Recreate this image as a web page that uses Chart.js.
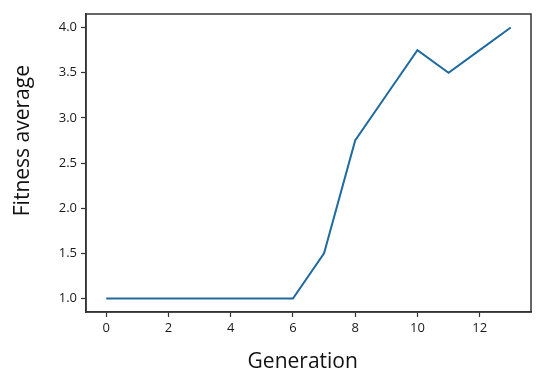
<!DOCTYPE html>
<html>
<head>
<meta charset="utf-8">
<script src="https://cdn.jsdelivr.net/npm/chart.js@4/dist/chart.umd.min.js"></script>
<style>
  html, body { margin: 0; padding: 0; background: #fff; }
  #wrap { width: 550px; height: 382px; }
</style>
</head>
<body>
<div id="wrap"><canvas id="chartFitness"></canvas></div>
<script>
const generations = [0, 1, 2, 3, 4, 5, 6, 7, 8, 9, 10, 11, 12, 13];
const fitnessAvg = [1.0, 1.0, 1.0, 1.0, 1.0, 1.0, 1.0, 1.5, 2.75, 3.25, 3.75, 3.5, 3.75, 4.0];
const xTicks = [0, 2, 4, 6, 8, 10, 12];
const yTicks = [1.0, 1.5, 2.0, 2.5, 3.0, 3.5, 4.0];
const xTitle = 'Generation';
const yTitle = 'Fitness average';

const axisColor = '#333333';
const fontFamily = '"Open Sans", "DejaVu Sans", sans-serif';

// box round the plot area + the two axis titles (placed like the original picture)
const frameBox = {
    id: 'frameBox',
    afterDraw(chart) {
        const a = chart.chartArea;
        const c = chart.ctx;
        c.save();
        c.strokeStyle = axisColor;
        c.lineWidth = 1.5;
        c.strokeRect(a.left, a.top, a.right - a.left, a.bottom - a.top);

        c.fillStyle = '#111';
        c.font = '21px ' + fontFamily;
        c.textAlign = 'center';
        c.textBaseline = 'middle';
        c.fillText(xTitle, a.left + (a.right - a.left) * 0.487, 362);
        c.translate(23, a.top + (a.bottom - a.top) * 0.425);
        c.rotate(-Math.PI / 2);
        c.fillText(yTitle, 0, 0);
        c.restore();
    }
};

const ctx = document.getElementById('chartFitness').getContext('2d');
new Chart(ctx, {
    type: 'line',
    data: {
        datasets: [{
            data: generations.map((g, i) => ({ x: g, y: fitnessAvg[i] })),
            borderColor: '#1f6a9e',
            borderWidth: 2,
            pointRadius: 0,
            tension: 0,
            fill: false
        }]
    },
    options: {
        responsive: true,
        maintainAspectRatio: false,
        animation: false,
        layout: { padding: { left: 0, right: 19, top: 14, bottom: 0 } },
        plugins: { legend: { display: false }, tooltip: { enabled: false } },
        scales: {
            x: {
                type: 'linear',
                min: -0.65,
                max: 13.65,
                afterBuildTicks: s => { s.ticks = xTicks.map(v => ({ value: v })); },
                afterFit: s => { s.height = 70; },
                grid: { drawOnChartArea: false, color: axisColor, tickLength: 5, tickWidth: 1.2 },
                border: { color: axisColor, width: 1.5 },
                ticks: { color: '#1a1a1a', font: { family: fontFamily, size: 13 }, padding: 3, maxRotation: 0 }
            },
            y: {
                min: 0.85,
                max: 4.15,
                afterBuildTicks: s => { s.ticks = yTicks.map(v => ({ value: v })); },
                afterFit: s => { s.width = 86; },
                grid: { drawOnChartArea: false, color: axisColor, tickLength: 5, tickWidth: 1.2 },
                border: { color: axisColor, width: 1.5 },
                ticks: { color: '#1a1a1a', font: { family: fontFamily, size: 13 }, padding: 4, callback: v => v.toFixed(1) }
            }
        }
    },
    plugins: [frameBox]
});
</script>
</body>
</html>
